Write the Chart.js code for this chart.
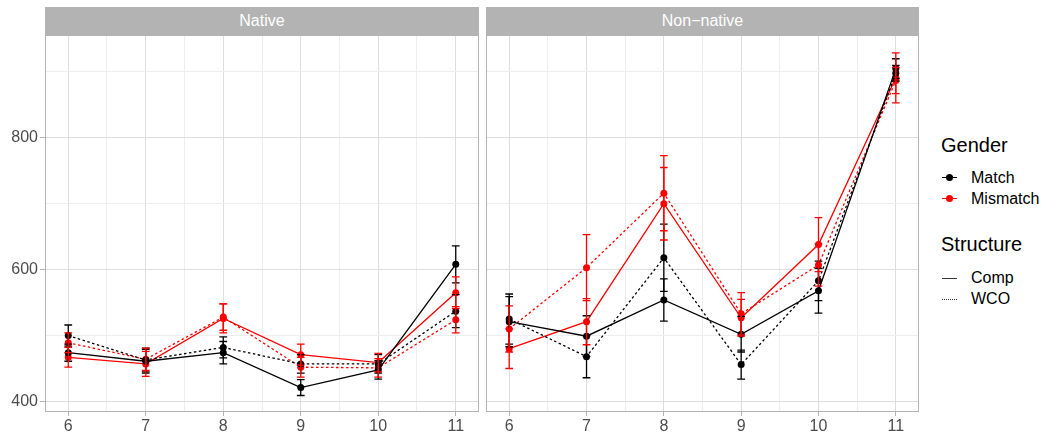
<!DOCTYPE html>
<html>
<head>
  <meta charset="utf-8">
  <title>Gender x Structure</title>
  <style>
    body { margin: 0; background: #fff; font-family: "Liberation Sans", Arial, sans-serif; }
    #wrap { position: relative; width: 1048px; height: 434px; overflow: hidden; }
    .strip { position: absolute; top: 7px; height: 28px; background: #B3B3B3; color: #fff;
             font-size: 16px; line-height: 28px; text-align: center; }
    canvas { position: absolute; }
    .lg { position: absolute; color: #000; }
    .lg-title { font-size: 20px; }
    .lg-text { font-size: 16px; }
    .key { position: absolute; width: 15px; height: 0; }
    .dot { position: absolute; width: 7px; height: 7px; border-radius: 50%; }
  </style>
</head>
<body>
<div id="wrap">
  <div class="strip" style="left:45px;width:434px">Native</div>
  <div class="strip" style="left:486px;width:433px">Non−native</div>
  <canvas id="native" width="481" height="399" style="left:0;top:35px"></canvas>
  <canvas id="nonnative" width="436" height="399" style="left:486px;top:35px"></canvas>

  <div class="lg lg-title" style="left:941px;top:134px">Gender</div>
  <div class="key" style="left:942px;top:177px;border-top:1.2px solid #000"></div>
  <div class="dot" style="left:946px;top:174px;background:#000"></div>
  <div class="lg lg-text" style="left:971px;top:169px">Match</div>
  <div class="key" style="left:942px;top:198px;border-top:1.2px solid #f00"></div>
  <div class="dot" style="left:946px;top:195px;background:#f00"></div>
  <div class="lg lg-text" style="left:971px;top:190px">Mismatch</div>

  <div class="lg lg-title" style="left:941px;top:233px">Structure</div>
  <div class="key" style="left:942px;top:278px;border-top:1.2px solid #333"></div>
  <div class="lg lg-text" style="left:971px;top:269px">Comp</div>
  <div class="key" style="left:942px;top:299px;border-top:1.2px dotted #333"></div>
  <div class="lg lg-text" style="left:971px;top:290px">WCO</div>
</div>

<script src="https://cdn.jsdelivr.net/npm/chart.js"></script>
<script>
  // x positions and tick values
  const xs = [6, 7, 8, 9, 10, 11];
  const xTicks = [6, 6.5, 7, 7.5, 8, 8.5, 9, 9.5, 10, 10.5, 11];
  const yTicks = [400, 500, 600, 700, 800, 900];

  // Native
  const nativeMatchComp = [474, 461, 474, 421, 448, 608];
  const nativeMatchCompErr = [13, 18, 17, 12, 14, 28];
  const nativeMatchWco = [500, 463, 482, 457, 457, 537];
  const nativeMatchWcoErr = [16, 18, 16, 14, 14, 25];
  const nativeMismatchComp = [467, 457, 526, 471, 459, 565];
  const nativeMismatchCompErr = [15, 19, 22, 16, 14, 24];
  const nativeMismatchWco = [489, 464, 528, 452, 451, 524];
  const nativeMismatchWcoErr = [15, 17, 20, 15, 14, 20];

  // Non-native
  const nonMatchComp = [521, 499, 554, 502, 568, 905];
  const nonMatchCompErr = [38, 31, 32, 27, 34, 15];
  const nonMatchWco = [525, 468, 618, 456, 583, 898];
  const nonMatchWcoErr = [38, 32, 51, 22, 30, 12];
  const nonMismatchComp = [480, 521, 700, 527, 638, 891];
  const nonMismatchCompErr = [30, 35, 55, 28, 41, 38];
  const nonMismatchWco = [510, 603, 716, 533, 607, 887];
  const nonMismatchWcoErr = [35, 50, 57, 32, 32, 20];

  const FONT = '"Liberation Sans", Arial, sans-serif';
  const BLACK = '#000000';
  const RED = '#FF0000';

  function serie(values, errs, color, dotted) {
    return {
      data: xs.map((x, i) => ({ x: x, y: values[i] })),
      errs: errs,
      borderColor: color,
      backgroundColor: color,
      borderWidth: 1.3,
      borderDash: dotted ? [2.5, 2.5] : [],
      pointRadius: 3.5,
      pointBorderWidth: 0,
      pointBackgroundColor: color,
      tension: 0,
    };
  }

  function noPad(s) {
    s.paddingTop = 0; s.paddingBottom = 0; s.paddingLeft = 0; s.paddingRight = 0;
  }

  // barras de erro + borda do painel
  const errorBars = {
    id: 'errorBars',
    afterDatasetsDraw(chart) {
      const ctx = chart.ctx;
      const x = chart.scales.x, y = chart.scales.y;
      const half = x.getPixelForValue(6.05) - x.getPixelForValue(6);
      ctx.save();
      chart.data.datasets.forEach(ds => {
        ctx.strokeStyle = ds.borderColor;
        ctx.lineWidth = 1.3;
        ds.data.forEach((p, i) => {
          const px = x.getPixelForValue(p.x);
          const top = y.getPixelForValue(p.y + ds.errs[i]);
          const bot = y.getPixelForValue(p.y - ds.errs[i]);
          ctx.beginPath();
          ctx.moveTo(px, top); ctx.lineTo(px, bot);
          ctx.moveTo(px - half, top); ctx.lineTo(px + half, top);
          ctx.moveTo(px - half, bot); ctx.lineTo(px + half, bot);
          ctx.stroke();
        });
      });
      const a = chart.chartArea;
      ctx.strokeStyle = '#B3B3B3';
      ctx.lineWidth = 1;
      ctx.strokeRect(Math.round(a.left) + 0.5, Math.round(a.top) + 0.5,
        Math.round(a.right - a.left) - 1, Math.round(a.bottom - a.top) - 1);
      ctx.restore();
    }
  };

  function makePanel(id, datasets, showY, padRight) {
    return new Chart(document.getElementById(id), {
      type: 'line',
      data: { datasets: datasets },
      plugins: [errorBars],
      options: {
        responsive: false,
        animation: false,
        layout: { autoPadding: false, padding: { left: 0, right: padRight, top: 0, bottom: 0 } },
        plugins: { legend: { display: false }, tooltip: { enabled: false } },
        scales: {
          x: {
            type: 'linear', min: 5.7, max: 11.3,
            afterBuildTicks: s => { s.ticks = xTicks.map(v => ({ value: v })); },
            afterFit: s => { s.height = 22; noPad(s); },
            ticks: {
              autoSkip: false, maxRotation: 0, padding: 1,
              color: '#4D4D4D', font: { family: FONT, size: 16 },
              callback: v => Number.isInteger(v) ? v : ''
            },
            grid: {
              color: c => Number.isInteger(c.tick.value) ? '#DEDEDE' : '#EEEEEE',
              tickColor: c => Number.isInteger(c.tick.value) ? '#B3B3B3' : 'rgba(0,0,0,0)',
              tickLength: 4
            },
            border: { display: false }
          },
          y: {
            type: 'linear', min: 384, max: 956,
            afterBuildTicks: s => { s.ticks = yTicks.map(v => ({ value: v })); },
            afterFit: s => { s.width = showY ? 45 : 0; noPad(s); },
            ticks: {
              display: showY, padding: 2,
              color: '#4D4D4D', font: { family: FONT, size: 16 },
              callback: v => v % 200 === 0 ? v : ''
            },
            grid: {
              color: c => c.tick.value % 200 === 0 ? '#DEDEDE' : '#EEEEEE',
              tickColor: c => c.tick.value % 200 === 0 ? '#B3B3B3' : 'rgba(0,0,0,0)',
              drawTicks: showY,
              tickLength: 5
            },
            border: { display: false }
          }
        }
      }
    });
  }

  makePanel('native', [
    serie(nativeMatchComp, nativeMatchCompErr, BLACK, false),
    serie(nativeMatchWco, nativeMatchWcoErr, BLACK, true),
    serie(nativeMismatchComp, nativeMismatchCompErr, RED, false),
    serie(nativeMismatchWco, nativeMismatchWcoErr, RED, true)
  ], true, 2);

  makePanel('nonnative', [
    serie(nonMatchComp, nonMatchCompErr, BLACK, false),
    serie(nonMatchWco, nonMatchWcoErr, BLACK, true),
    serie(nonMismatchComp, nonMismatchCompErr, RED, false),
    serie(nonMismatchWco, nonMismatchWcoErr, RED, true)
  ], false, 3);
</script>
</body>
</html>
